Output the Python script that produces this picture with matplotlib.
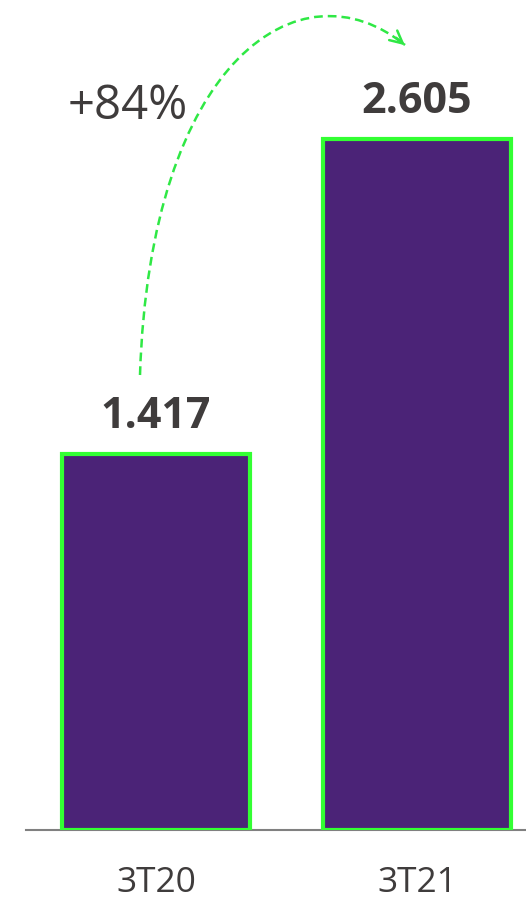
import numpy as np
import matplotlib
matplotlib.use("Agg")
import matplotlib.pyplot as plt
from matplotlib.path import Path
from matplotlib.patches import PathPatch

plt.rcParams['font.family'] = ['Open Sans', 'DejaVu Sans']

periodos = ['3T20', '3T21']
valores = [1417, 2605]
etiquetas = ['1.417', '2.605']
variacao = '+84%'

roxo = '#4b2377'
verde = '#33ff33'
verde_seta = '#2fe845'
cinza_texto = '#3f3c3c'

fig = plt.figure(figsize=(5.26, 9), dpi=100)
ax = fig.add_axes([26 / 526, 70 / 900, 500 / 526, 830 / 900])

x = np.arange(len(periodos))
ax.bar(x, valores, width=0.72, color=roxo, edgecolor=verde, linewidth=3, zorder=3)
ax.set_xlim(-0.498, 1.418)
ax.set_ylim(0, 3129)

for xi, v, t in zip(x, valores, etiquetas):
    ax.text(xi, v + 62, t, ha='center', va='bottom', fontsize=31,
            fontweight='bold', color=cinza_texto)

for s in ['top', 'right', 'left']:
    ax.spines[s].set_visible(False)
ax.spines['bottom'].set_color('#808080')
ax.spines['bottom'].set_linewidth(1.5)
ax.spines['bottom'].set_zorder(2)
ax.set_yticks([])
ax.set_xticks(x)
ax.set_xticklabels(periodos, fontsize=25.5, color=cinza_texto)
ax.tick_params(axis='x', length=0, pad=26)

# seta tracejada (overlay em pixels)
ov = fig.add_axes([0, 0, 1, 1])
ov.set_xlim(0, 526)
ov.set_ylim(900, 0)
ov.axis('off')
ov.patch.set_alpha(0)
verts = [(140, 375), (150, 60), (300, -40), (405, 45)]
codes = [Path.MOVETO, Path.CURVE4, Path.CURVE4, Path.CURVE4]
ov.add_patch(PathPatch(Path(verts, codes), fill=False, edgecolor=verde_seta,
                       linewidth=1.8, linestyle=(0, (3.5, 2))))
ov.annotate('', xy=(407, 47), xytext=(394, 36),
            arrowprops=dict(arrowstyle='->,head_length=0.9,head_width=0.45',
                            color=verde_seta, lw=1.8))
ov.text(68, 106, variacao, ha='left', va='center', fontsize=34, color=cinza_texto)

fig.savefig('out.png', dpi=100)
